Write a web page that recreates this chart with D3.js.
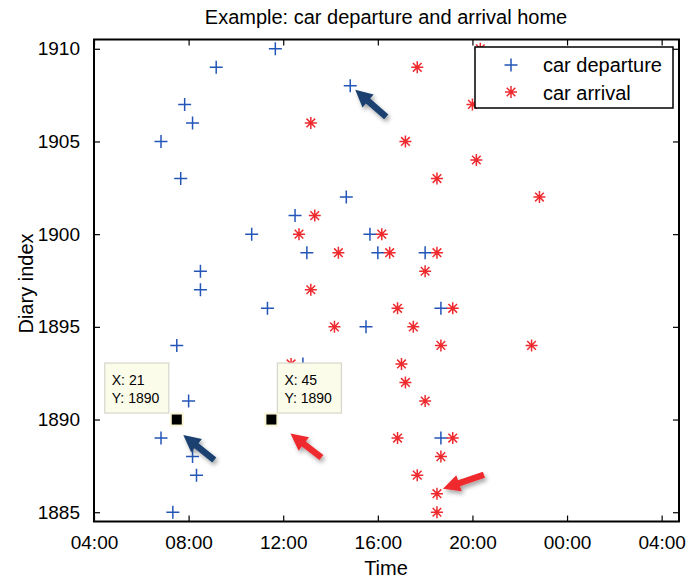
<!DOCTYPE html>
<html>
<head>
<meta charset="utf-8">
<script src="https://cdn.jsdelivr.net/npm/d3@7"></script>
<style>
  body { margin: 0; background: #fff; }
  text { font-family: "Liberation Sans", Arial, Helvetica, sans-serif; fill: #000; }
</style>
</head>
<body>
<svg id="chart" width="689" height="578"></svg>
<script>
// Time is counted in 10-minute slots starting at 04:00 (slot 0 = 04:00, slot 144 = 04:00 next day)
const departureDiary = [1910, 1909, 1908, 1907, 1906, 1905, 1903, 1902, 1901, 1900, 1900, 1899, 1899, 1899,
  1898, 1897, 1896, 1896, 1895, 1894, 1893, 1891, 1889, 1889, 1888, 1887, 1885];
const departureSlot = [46, 31, 65, 23, 25, 17, 22, 64, 51, 40, 70, 54, 72, 84,
  27, 27, 44, 88, 69, 21, 53, 24, 17, 88, 25, 26, 20];

const arrivalDiary = [1910, 1909, 1907, 1906, 1905, 1904, 1903, 1902, 1901, 1900, 1900, 1899, 1899, 1899,
  1898, 1897, 1896, 1896, 1895, 1895, 1894, 1894, 1893, 1893, 1892, 1891, 1889, 1889, 1888, 1887, 1886, 1885];
const arrivalSlot = [98, 82, 96, 55, 79, 97, 87, 113, 56, 52, 73, 62, 75, 87,
  84, 55, 77, 91, 61, 81, 88, 111, 50, 78, 79, 84, 77, 91, 88, 82, 87, 87];

const timeTicks = [0, 24, 48, 72, 96, 120, 144];
const diaryTicks = [1885, 1890, 1895, 1900, 1905, 1910];

const seriesNames = ["car departure", "car arrival"];

// data tips
const tipSlot = [21, 45];
const tipDiary = [1890, 1890];

const plotL = 94, plotR = 679, plotT = 39.5, plotB = 521.5;

const svg = d3.select("#chart");
const x = d3.scaleLinear().domain([0, 148.4]).range([plotL, plotR]);
const y = d3.scaleLinear().domain([1884.5, 1910.5]).range([plotB, plotT]);

const BLUE = "#2456b8", RED = "#ee2a2e", NAVY = "#1a4170";

const defs = svg.append("defs");
const shadow = defs.append("filter").attr("id", "shadow")
  .attr("x", "-30%").attr("y", "-30%").attr("width", "160%").attr("height", "160%");
shadow.append("feDropShadow").attr("dx", 2).attr("dy", 3).attr("stdDeviation", 2)
  .attr("flood-color", "#000").attr("flood-opacity", 0.35);

function slotLabel(s) {
  const h = (4 + Math.floor(s / 6)) % 24;
  return String(h).padStart(2, "0") + ":00";
}

// axes (ticks pointing inward, box on)
const xAxisB = d3.axisBottom(x).tickValues(timeTicks).tickSize(-6).tickPadding(14).tickFormat(slotLabel);
const xAxisT = d3.axisTop(x).tickValues(timeTicks).tickSize(-6).tickFormat("");
const yAxisL = d3.axisLeft(y).tickValues(diaryTicks).tickSize(-6).tickPadding(14).tickFormat(d3.format("d"));
const yAxisR = d3.axisRight(y).tickValues(diaryTicks).tickSize(-6).tickFormat("");

function styleAxis(g) {
  g.select(".domain").remove();
  g.selectAll(".tick line").attr("stroke", "#000").attr("stroke-width", 1.2);
  g.selectAll(".tick text").style("font-size", "19px").attr("fill", "#000");
}

svg.append("g").attr("transform", `translate(0,${plotB})`).call(xAxisB).call(styleAxis);
svg.append("g").attr("transform", `translate(0,${plotT})`).call(xAxisT).call(styleAxis);
svg.append("g").attr("transform", `translate(${plotL},0)`).call(yAxisL).call(styleAxis);
svg.append("g").attr("transform", `translate(${plotR},0)`).call(yAxisR).call(styleAxis);

// frame
svg.append("rect").attr("x", plotL).attr("y", plotT).attr("width", plotR - plotL).attr("height", plotB - plotT)
  .attr("fill", "none").attr("stroke", "#000").attr("stroke-width", 2);

// markers
function plusPath(r) { return `M${-r},0H${r}M0,${-r}V${r}`; }
function starPath(r) {
  const d = r * 0.72;
  return `M${-r},0H${r}M0,${-r}V${r}M${-d},${-d}L${d},${d}M${-d},${d}L${d},${-d}`;
}

const depData = departureSlot.map((s, i) => ({ s, d: departureDiary[i] }));
const arrData = arrivalSlot.map((s, i) => ({ s, d: arrivalDiary[i] }));

svg.append("g").selectAll("path").data(depData).join("path")
  .attr("transform", p => `translate(${x(p.s)},${y(p.d)})`)
  .attr("d", plusPath(6.5)).attr("stroke", BLUE).attr("stroke-width", 1.5).attr("fill", "none");

svg.append("g").selectAll("path").data(arrData).join("path")
  .attr("transform", p => `translate(${x(p.s)},${y(p.d)})`)
  .attr("d", starPath(6)).attr("stroke", RED).attr("stroke-width", 1.5).attr("fill", "none");

// legend
const lg = svg.append("g");
lg.append("rect").attr("x", 475).attr("y", 47).attr("width", 198).attr("height", 61)
  .attr("fill", "#fff").attr("stroke", "#000").attr("stroke-width", 1.5);
lg.append("path").attr("transform", "translate(511,65)").attr("d", plusPath(6.5))
  .attr("stroke", BLUE).attr("stroke-width", 1.5).attr("fill", "none");
lg.append("path").attr("transform", "translate(511,92)").attr("d", starPath(6))
  .attr("stroke", RED).attr("stroke-width", 1.5).attr("fill", "none");
lg.append("text").attr("x", 543).attr("y", 65).attr("dy", "0.35em").style("font-size", "20px").text(seriesNames[0]);
lg.append("text").attr("x", 543).attr("y", 93).attr("dy", "0.35em").style("font-size", "20px").text(seriesNames[1]);

// data tips
tipSlot.forEach((s, i) => {
  const cx = x(s), cy = y(tipDiary[i]);
  const bw = 64, bh = 50;
  const bx = i === 0 ? cx - 8 - bw : cx + 6;
  const by = cy - 6.5 - bh;
  const g = svg.append("g");
  g.append("rect").attr("x", bx).attr("y", by).attr("width", bw).attr("height", bh)
    .attr("fill", "#fcfcea").attr("stroke", "#d6d6cc").attr("stroke-width", 1.2);
  g.append("text").attr("x", bx + 7).attr("y", by + 17).attr("dy", "0.35em").style("font-size", "14px")
    .text(`X: ${s}`);
  g.append("text").attr("x", bx + 7).attr("y", by + 35).attr("dy", "0.35em").style("font-size", "14px")
    .text(`Y: ${tipDiary[i]}`);
  g.append("rect").attr("x", cx - 6).attr("y", cy - 6).attr("width", 12).attr("height", 12)
    .attr("fill", "#000").attr("stroke", "#fbf6d8").attr("stroke-width", 2);
});

// block arrows pointing at points of interest
function arrow(tx, ty, vx, vy, color) {
  const L = Math.hypot(vx, vy), ux = -vx / L, uy = -vy / L; // unit vector tail -> tip
  const nx = -uy, ny = ux;
  const hl = 17, hw = 8.5, sw = 3.2;
  const bx = tx - ux * hl, by = ty - uy * hl;
  const ex = tx + vx, ey = ty + vy;
  const pts = [
    [tx, ty],
    [bx + nx * hw, by + ny * hw],
    [bx + nx * sw, by + ny * sw],
    [ex + nx * sw, ey + ny * sw],
    [ex - nx * sw, ey - ny * sw],
    [bx - nx * sw, by - ny * sw],
    [bx - nx * hw, by - ny * hw]
  ];
  svg.append("polygon").attr("points", pts.map(p => p.join(",")).join(" "))
    .attr("fill", color).attr("filter", "url(#shadow)");
}
arrow(x(65) + 5, y(1908) + 4, 31, 27, NAVY);
arrow(x(tipSlot[0]) + 6.5, y(tipDiary[0]) + 15.5, 31, 25, NAVY);
arrow(x(tipSlot[1]) + 19, y(tipDiary[1]) + 14, 31, 24, RED);
arrow(x(87) + 6, y(1886) - 5, 41, -14, RED);

// title and axis labels
svg.append("text").attr("x", 386).attr("y", 17).attr("dy", "0.35em").attr("text-anchor", "middle")
  .style("font-size", "20px").text("Example: car departure and arrival home");
svg.append("text").attr("x", 386).attr("y", 568).attr("dy", "0.35em").attr("text-anchor", "middle")
  .style("font-size", "20px").text("Time");
svg.append("text").attr("transform", `translate(26,${(plotT + plotB) / 2 + 3}) rotate(-90)`)
  .attr("dy", "0.35em").attr("text-anchor", "middle").style("font-size", "20px").text("Diary index");
</script>
</body>
</html>
